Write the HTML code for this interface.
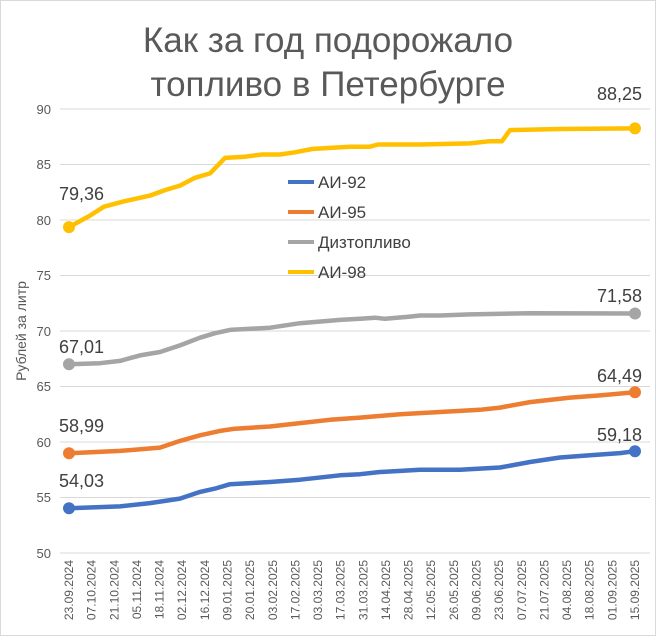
<!DOCTYPE html>
<html><head><meta charset="utf-8"><style>
body{margin:0;background:#fff}
svg{display:block;font-family:"Liberation Sans",sans-serif}
</style></head><body>
<svg width="656" height="636" viewBox="0 0 656 636" xmlns="http://www.w3.org/2000/svg">
<rect x="0.5" y="0.5" width="655" height="635" fill="#fff" stroke="#d9d9d9"/>
<text x="328" y="52" text-anchor="middle" font-size="35" fill="#595959">Как за год подорожало</text>
<text x="328" y="96" text-anchor="middle" font-size="35" fill="#595959">топливо в Петербурге</text>
<g stroke="#d9d9d9" stroke-width="1">
<line x1="60" x2="650" y1="109" y2="109"/><line x1="60" x2="650" y1="164.5" y2="164.5"/>
<line x1="60" x2="650" y1="220" y2="220"/><line x1="60" x2="650" y1="275.5" y2="275.5"/>
<line x1="60" x2="650" y1="331" y2="331"/><line x1="60" x2="650" y1="386.5" y2="386.5"/>
<line x1="60" x2="650" y1="442" y2="442"/><line x1="60" x2="650" y1="497.5" y2="497.5"/>
<line x1="60" x2="650" y1="553" y2="553"/>
</g>
<g font-size="13" fill="#595959" text-anchor="end">
<text x="51" y="114">90</text><text x="51" y="169">85</text><text x="51" y="225">80</text>
<text x="51" y="280">75</text><text x="51" y="336">70</text><text x="51" y="391">65</text>
<text x="51" y="447">60</text><text x="51" y="502">55</text><text x="51" y="558">50</text>
</g>
<text transform="translate(26,331) rotate(-90)" text-anchor="middle" font-size="14" fill="#595959">Рублей за литр</text>
<g font-size="12" fill="#595959" text-anchor="end">
<text transform="translate(73,560) rotate(-90)">23.09.2024</text>
<text transform="translate(95.6,560) rotate(-90)">07.10.2024</text>
<text transform="translate(118.3,560) rotate(-90)">21.10.2024</text>
<text transform="translate(140.9,560) rotate(-90)">05.11.2024</text>
<text transform="translate(163.6,560) rotate(-90)">18.11.2024</text>
<text transform="translate(186.2,560) rotate(-90)">02.12.2024</text>
<text transform="translate(208.8,560) rotate(-90)">16.12.2024</text>
<text transform="translate(231.5,560) rotate(-90)">09.01.2025</text>
<text transform="translate(254.1,560) rotate(-90)">20.01.2025</text>
<text transform="translate(276.8,560) rotate(-90)">03.02.2025</text>
<text transform="translate(299.4,560) rotate(-90)">17.02.2025</text>
<text transform="translate(322,560) rotate(-90)">03.03.2025</text>
<text transform="translate(344.7,560) rotate(-90)">17.03.2025</text>
<text transform="translate(367.3,560) rotate(-90)">31.03.2025</text>
<text transform="translate(390,560) rotate(-90)">14.04.2025</text>
<text transform="translate(412.6,560) rotate(-90)">28.04.2025</text>
<text transform="translate(435.2,560) rotate(-90)">12.05.2025</text>
<text transform="translate(457.9,560) rotate(-90)">26.05.2025</text>
<text transform="translate(480.5,560) rotate(-90)">09.06.2025</text>
<text transform="translate(503.2,560) rotate(-90)">23.06.2025</text>
<text transform="translate(525.8,560) rotate(-90)">07.07.2025</text>
<text transform="translate(548.4,560) rotate(-90)">21.07.2025</text>
<text transform="translate(571.1,560) rotate(-90)">04.08.2025</text>
<text transform="translate(593.7,560) rotate(-90)">18.08.2025</text>
<text transform="translate(616.4,560) rotate(-90)">01.09.2025</text>
<text transform="translate(639,560) rotate(-90)">15.09.2025</text>
</g>
<g fill="none" stroke-width="4.5" stroke-linejoin="round" stroke-linecap="round">
<polyline stroke="#ffc000" points="69,227.1 90,215.6 104,206.7 125,201.1 150,195.6 165,190.1 180,185.6 195,177.8 210,173.4 225,157.9 245,156.7 262,154.5 280,154.5 295,152.3 312,149.0 330,147.9 350,146.7 370,146.7 378,144.5 420,144.5 470,143.4 490,141.2 502,141.2 510,130.1 560,129.0 635,128.4"/>
<polyline stroke="#a5a5a5" points="69,364.2 100,363.2 120,360.9 140,355.4 160,352.0 180,345.4 200,337.7 215,333.2 230,329.9 270,327.7 300,323.2 340,319.9 360,318.8 375,317.7 385,318.8 410,316.6 420,315.5 440,315.5 470,314.4 530,313.2 635,313.5"/>
<polyline stroke="#ed7d31" points="69,453.2 120,450.9 160,447.6 180,440.9 200,435.3 220,430.9 235,428.7 270,426.5 300,423.1 330,419.8 360,417.6 400,414.3 440,412.0 480,409.8 500,407.6 530,402.1 570,397.6 600,395.4 635,392.2"/>
<polyline stroke="#4472c4" points="69,508.3 120,506.4 150,503.1 180,498.6 200,491.9 215,488.6 230,484.2 270,482.0 300,479.7 340,475.3 360,474.2 380,472.0 420,469.8 460,469.8 500,467.5 530,462.0 560,457.5 590,455.3 620,453.1 635,451.2"/>
</g>
<g>
<circle cx="69" cy="227.1" r="6" fill="#ffc000"/><circle cx="635" cy="128.4" r="6" fill="#ffc000"/>
<circle cx="69" cy="364.2" r="6" fill="#a5a5a5"/><circle cx="635" cy="313.5" r="6" fill="#a5a5a5"/>
<circle cx="69" cy="453.2" r="6" fill="#ed7d31"/><circle cx="635" cy="392.2" r="6" fill="#ed7d31"/>
<circle cx="69" cy="508.3" r="6" fill="#4472c4"/><circle cx="635" cy="451.2" r="6" fill="#4472c4"/>
</g>
<g font-size="18" fill="#404040">
<text x="59" y="200">79,36</text><text x="597" y="100">88,25</text>
<text x="59" y="353">67,01</text><text x="597" y="302">71,58</text>
<text x="59" y="432">58,99</text><text x="597" y="382">64,49</text>
<text x="59" y="487">54,03</text><text x="597" y="441">59,18</text>
</g>
<g font-size="17" fill="#404040">
<line x1="288" x2="314" y1="182" y2="182" stroke="#4472c4" stroke-width="4"/><text x="318" y="188">АИ-92</text>
<line x1="288" x2="314" y1="212" y2="212" stroke="#ed7d31" stroke-width="4"/><text x="318" y="218">АИ-95</text>
<line x1="288" x2="314" y1="242" y2="242" stroke="#a5a5a5" stroke-width="4"/><text x="318" y="248">Дизтопливо</text>
<line x1="288" x2="314" y1="272" y2="272" stroke="#ffc000" stroke-width="4"/><text x="318" y="278">АИ-98</text>
</g>
</svg>
</body></html>
